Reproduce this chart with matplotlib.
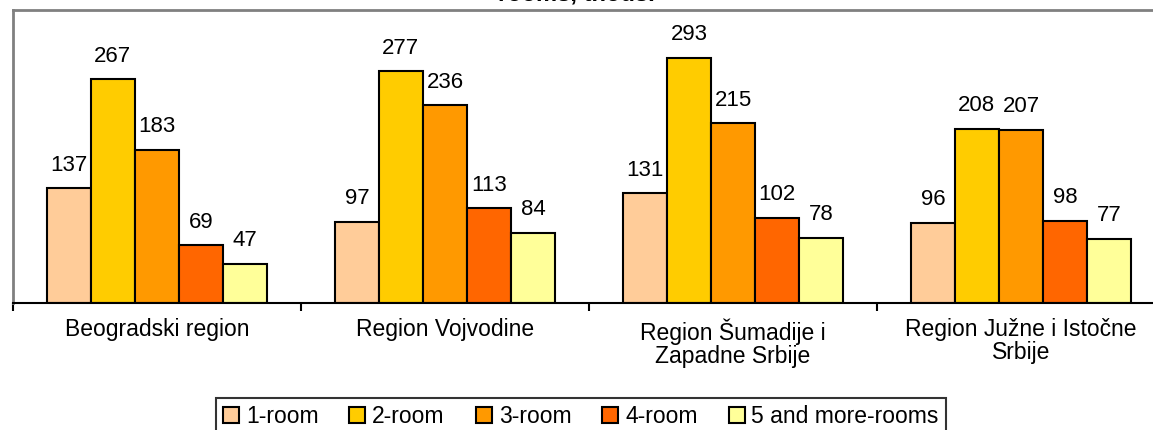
import matplotlib.pyplot as plt
import numpy as np

plt.rcParams['font.family'] = ['Liberation Sans', 'DejaVu Sans']

regions = ['Beogradski region', 'Region Vojvodine',
           'Region Šumadije i\nZapadne Srbije', 'Region Južne i Istočne\nSrbije']
series = ['1-room', '2-room', '3-room', '4-room', '5 and more-rooms']
one_room = [137, 97, 131, 96]
two_room = [267, 277, 293, 208]
three_room = [183, 236, 215, 207]
four_room = [69, 113, 102, 98]
five_more = [47, 84, 78, 77]
colors = ['#FFCC99', '#FFCC00', '#FF9900', '#FF6600', '#FFFF99']

W, H = 1153, 430
fig = plt.figure(figsize=(W / 100, H / 100), dpi=100)
ax = fig.add_axes([13 / W, 127 / H, 1152 / W, 293 / H])

x = np.arange(len(regions))
bw = 0.153
all_vals = [one_room, two_room, three_room, four_room, five_more]
for i, (vals, name, c) in enumerate(zip(all_vals, series, colors)):
    bars = ax.bar(x + (i - 2) * bw, vals, bw, color=c, edgecolor='black',
                  linewidth=1.5, label=name)
    ax.bar_label(bars, padding=9, fontsize=16)

ax.set_xlim(-0.5, 3.5)
ax.set_ylim(0, 350)
ax.set_yticks([])
ax.set_xticks(x)
ax.set_xticklabels(regions, fontsize=16.5, linespacing=1.0)
ax.set_xticks(np.arange(len(regions) + 1) - 0.5, minor=True)
ax.tick_params(axis='x', which='major', length=0, pad=11)
ax.tick_params(axis='x', which='minor', length=6, width=1.5, direction='out')

for s in ['top', 'left', 'right']:
    ax.spines[s].set_color('#808080')
    ax.spines[s].set_linewidth(2)
ax.spines['bottom'].set_color('black')
ax.spines['bottom'].set_linewidth(1.5)

fig.text(0.5, 1 - 1 / H, 'rooms, thous.', ha='center', va='baseline',
         fontsize=17, fontweight='bold')

leg = fig.legend(loc='upper left', bbox_to_anchor=(216 / W, 1 - 398 / H),
                 ncol=5, fontsize=16.5, frameon=True, fancybox=False,
                 handlelength=0.7, handleheight=0.7, handletextpad=0.3,
                 columnspacing=1.35, borderpad=0.3, borderaxespad=0)
leg.get_frame().set_edgecolor('black')
leg.get_frame().set_linewidth(1.5)

plt.savefig('out.png', dpi=100)
